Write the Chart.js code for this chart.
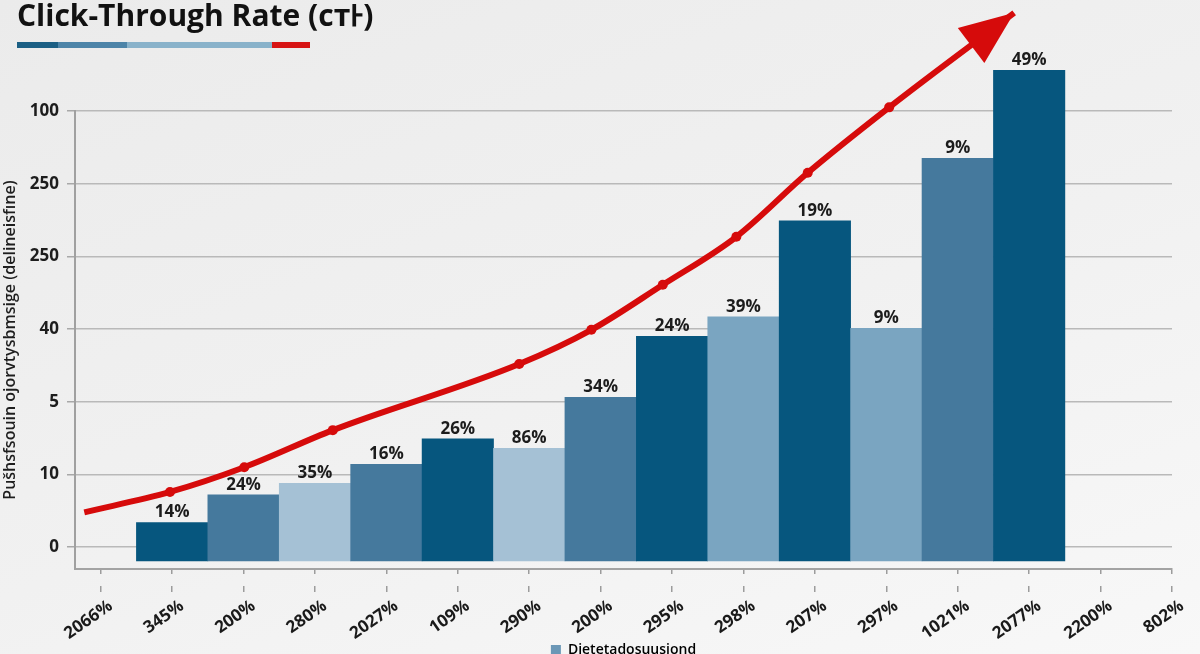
<!DOCTYPE html>
<html>
<head>
<meta charset="utf-8">
<title>Click-Through Rate</title>
<script src="https://cdn.jsdelivr.net/npm/chart.js@4.4.1/dist/chart.umd.min.js"></script>
<style>
    html, body { margin: 0; padding: 0; }
    body {
        width: 1200px;
        height: 654px;
        overflow: hidden;
        background: linear-gradient(160deg, #ebebeb 0%, #f1f1f1 55%, #f8f8f8 100%);
        font-family: 'Open Sans', sans-serif;
    }
    #wrap { position: relative; width: 1200px; height: 654px; }
    #ctrChart { position: absolute; left: 0; top: 0; }
    #title {
        position: absolute;
        left: 17px;
        top: -6px;
        font-size: 30px;
        font-weight: 700;
        color: #111;
        white-space: nowrap;
    }
    #strip { position: absolute; left: 17px; top: 42px; height: 6px; display: flex; }
    #strip span { display: block; height: 6px; }
</style>
</head>
<body>
<div id="wrap">
    <canvas id="ctrChart" width="1200" height="654"></canvas>
    <div id="title">Click-Through Rate (cтͰ)</div>
    <div id="strip">
        <span style="width:41px;background:#1b5f84"></span>
        <span style="width:69px;background:#4d84a8"></span>
        <span style="width:145px;background:#89b2ca"></span>
        <span style="width:38px;background:#d71414"></span>
    </div>
</div>

<script>
// Chart data
const xTickLabels = ['2066%', '345%', '200%', '280%', '2027%', '109%', '290%', '200%',
                     '295%', '298%', '207%', '297%', '1021%', '2077%', '2200%', '802%'];
const yTickLabels = ['0', '10', '5', '40', '250', '250', '100'];
const barLabels = ['14%', '24%', '35%', '16%', '26%', '86%', '34%', '24%', '39%', '19%', '9%', '9%', '49%'];
const barValues = [0.34, 0.72, 0.88, 1.14, 1.49, 1.36, 2.06, 2.90, 3.17, 4.49, 3.01, 5.35, 6.56];
const trendX = [-0.23, 0.97, 2.01, 3.25, 5.86, 6.87, 7.87, 8.90, 9.90, 11.04, 12.79];
const trendY = [0.48, 0.76, 1.10, 1.61, 2.52, 2.99, 3.61, 4.27, 5.15, 6.05, 7.35];
const legendLabel = 'Dietetadosuusiond';
const yTitle = 'Pušhsfsouin ojorvtysbmsige (delineisfıne)';

// Colours
const DARK = '#06567e', MID = '#45799d', PALE = '#a5c1d5', SOFT = '#7aa5c1';
const barColors = [DARK, MID, PALE, MID, DARK, PALE, MID, DARK, SOFT, DARK, SOFT, MID, DARK];
const RED = '#d60b0b';
const Y_MIN = -0.30;
const BAR_BASE = -0.19;

Chart.defaults.font.family = "'Open Sans', sans-serif";

// Percent labels above each bar
const barLabelPlugin = {
    id: 'barLabels',
    afterDatasetsDraw(chart) {
        const ctx = chart.ctx;
        const meta = chart.getDatasetMeta(0);
        ctx.save();
        ctx.font = 'bold 17px "Open Sans", sans-serif';
        ctx.fillStyle = '#1c1c1c';
        ctx.textAlign = 'center';
        ctx.textBaseline = 'alphabetic';
        meta.data.forEach((bar, i) => ctx.fillText(barLabels[i], bar.x, bar.y - 5));
        ctx.restore();
    }
};

// Arrow head at the end of the trend line
const arrowPlugin = {
    id: 'trendArrow',
    afterDatasetsDraw(chart) {
        const pts = chart.getDatasetMeta(1).data;
        const tip = pts[pts.length - 1];
        const prev = pts[pts.length - 2];
        const fromX = tip.cp1x !== undefined ? tip.cp1x : prev.x;
        const fromY = tip.cp1y !== undefined ? tip.cp1y : prev.y;
        const ang = Math.atan2(tip.y - fromY, tip.x - fromX);
        const len = 54, half = 22;
        const ctx = chart.ctx;
        ctx.save();
        ctx.translate(tip.x, tip.y);
        ctx.rotate(ang);
        ctx.beginPath();
        ctx.moveTo(0, 0);
        ctx.lineTo(-len, -half);
        ctx.lineTo(-len, half);
        ctx.closePath();
        ctx.fillStyle = RED;
        ctx.fill();
        ctx.restore();
    }
};

const ctx = document.getElementById('ctrChart').getContext('2d');
new Chart(ctx, {
    data: {
        datasets: [{
            type: 'bar',
            label: legendLabel,
            data: barValues.map((v, i) => ({ x: i + 1, y: v })),
            backgroundColor: barColors,
            borderWidth: 0,
            base: BAR_BASE,
            barPercentage: 1,
            categoryPercentage: 1,
            clip: false,
            order: 2
        }, {
            type: 'line',
            label: 'trend',
            data: trendX.map((x, i) => ({ x: x, y: trendY[i] })),
            borderColor: RED,
            borderWidth: 6,
            borderCapStyle: 'butt',
            cubicInterpolationMode: 'monotone',
            pointRadius: c => (c.dataIndex === 0 || c.dataIndex === trendX.length - 1) ? 0 : 5,
            pointBackgroundColor: RED,
            pointBorderWidth: 0,
            fill: false,
            clip: false,
            order: 1
        }]
    },
    options: {
        responsive: false,
        animation: false,
        layout: { padding: { top: 111, right: 28, bottom: -13, left: 0 } },
        scales: {
            x: {
                type: 'linear',
                offset: false,
                min: -0.36,
                max: 15,
                afterBuildTicks: axis => { axis.ticks = xTickLabels.map((_, i) => ({ value: i })); },
                afterFit: axis => { axis.height = 74; },
                ticks: {
                    callback: v => xTickLabels[Math.round(v)],
                    autoSkip: false,
                    minRotation: 35,
                    maxRotation: 35,
                    padding: 4,
                    labelOffset: 10,
                    color: '#1a1a1a',
                    font: { size: 17, weight: 'bold' }
                },
                grid: {
                    offset: false,
                    drawOnChartArea: false,
                    tickLength: 23,
                    tickBorderDash: [4, 12, 7, 12],
                    color: '#9c9c9c',
                    lineWidth: 1.5
                },
                border: { color: '#a3a3a3', width: 2 }
            },
            y: {
                type: 'linear',
                min: Y_MIN,
                max: 6,
                afterBuildTicks: axis => { axis.ticks = yTickLabels.map((_, i) => ({ value: i })); },
                afterFit: axis => { axis.width = 75; },
                ticks: {
                    callback: v => yTickLabels[Math.round(v)],
                    padding: 8,
                    color: '#1d1d1d',
                    font: { size: 17, weight: 'bold' }
                },
                grid: { color: '#b9b9b9', lineWidth: 1.5, tickLength: 8, tickColor: '#a8a8a8' },
                border: { color: '#a0a0a0', width: 2 },
                title: {
                    display: true,
                    text: yTitle,
                    color: '#1e1e1e',
                    font: { size: 16, weight: '600' },
                    padding: { top: 1, bottom: 0 }
                }
            }
        },
        plugins: {
            tooltip: { enabled: false },
            legend: {
                position: 'bottom',
                fullSize: false,
                labels: {
                    boxWidth: 10,
                    boxHeight: 10,
                    padding: 0,
                    color: '#222',
                    font: { size: 14, weight: '600' },
                    generateLabels: () => [{
                        text: legendLabel,
                        fillStyle: '#6b97b6',
                        strokeStyle: '#6b97b6',
                        lineWidth: 0,
                        hidden: false,
                        datasetIndex: 0
                    }]
                }
            }
        }
    },
    plugins: [barLabelPlugin, arrowPlugin]
});
</script>
</body>
</html>
